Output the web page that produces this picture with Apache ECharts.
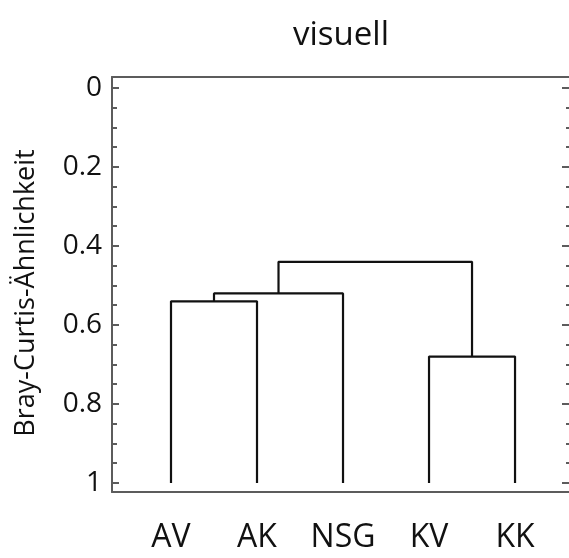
<!DOCTYPE html>
<html>
<head>
<meta charset="utf-8">
<script src="https://cdn.jsdelivr.net/npm/echarts@6/dist/echarts.min.js"></script>
<style>
  html, body { margin: 0; padding: 0; background: #fff; }
  #chart { width: 569px; height: 558px; }
</style>
</head>
<body>
<div id="chart"></div>
<script>
// Leaves of the dendrogram, left to right
const leafNames = ['AV', 'AK', 'NSG', 'KV', 'KK'];
// Height of the leaves on the similarity axis
const leafHeight = 1;
// Each merge joins two nodes: indices 0..4 are leaves, 5.. are earlier merges
const mergePairs = [[0, 1], [5, 2], [3, 4], [6, 7]];
// Bray-Curtis value at which each merge happens
const mergeHeights = [0.54, 0.52, 0.68, 0.44];
// Axis tick labels
const majorTicks = [0, 0.2, 0.4, 0.6, 0.8, 1];
const minorTicks = [0.05, 0.1, 0.15, 0.25, 0.3, 0.35, 0.45, 0.5, 0.55, 0.65, 0.7, 0.75, 0.85, 0.9, 0.95];

const FONT = 'Open Sans';
const axisColor = '#5c5c5c';
const inkColor = '#111';

// node positions: leaves sit at 1..n, merges at the mean of their children
const nodes = leafNames.map((name, i) => ({ x: i + 1, y: leafHeight }));
const series = [];
mergePairs.forEach((pair, k) => {
  const a = nodes[pair[0]], b = nodes[pair[1]], h = mergeHeights[k];
  nodes.push({ x: (a.x + b.x) / 2, y: h });
  series.push({
    type: 'line',
    xAxisIndex: 0,
    yAxisIndex: 0,
    symbol: 'none',
    silent: true,
    animation: false,
    lineStyle: { color: inkColor, width: 2.2 },
    data: [[a.x, a.y], [a.x, h], [b.x, h], [b.x, b.y]]
  });
});

const xMin = 0.314, xMax = 5.674;
const yMin = -0.0278, yMax = 1.0228;
const tickFmt = v => (Math.abs(v) < 1e-9 ? '0' : Math.abs(v - 1) < 1e-9 ? '1' : v.toFixed(1));

const chart = echarts.init(document.getElementById('chart'), null, { renderer: 'canvas' });
chart.setOption({
  backgroundColor: '#fff',
  animation: false,
  title: {
    text: 'visuell',
    left: 288,
    top: 14,
    textStyle: { fontFamily: FONT, fontSize: 33, fontWeight: 'normal', color: inkColor }
  },
  grid: { left: 112, right: -4, top: 77, bottom: 66, containLabel: false, outerBoundsMode: 'none' },
  xAxis: [
    {
      type: 'value', min: xMin, max: xMax, position: 'bottom',
      axisLine: { show: true, onZero: false, lineStyle: { color: axisColor, width: 2 } },
      axisTick: { show: false },
      splitLine: { show: false },
      axisLabel: {
        customValues: leafNames.map((n, i) => i + 1),
        formatter: v => leafNames[Math.round(v) - 1],
        margin: 30,
        fontFamily: FONT, fontSize: 32, color: inkColor
      }
    },
    {
      type: 'value', min: xMin, max: xMax, position: 'top',
      axisLine: { show: true, onZero: false, lineStyle: { color: axisColor, width: 2 } },
      axisTick: { show: false }, axisLabel: { show: false }, splitLine: { show: false }
    }
  ],
  yAxis: [
    {
      type: 'value', inverse: true, min: yMin, max: yMax, position: 'left',
      name: 'Bray-Curtis-Ähnlichkeit',
      nameLocation: 'middle',
      nameGap: 72,
      nameTextStyle: { fontFamily: FONT, fontSize: 27, color: inkColor, padding: [0, 17, 0, 0] },
      axisLine: { show: true, onZero: false, lineStyle: { color: axisColor, width: 2 } },
      axisTick: { show: true, inside: true, length: 7, customValues: majorTicks, lineStyle: { color: axisColor, width: 2 } },
      axisLabel: { customValues: majorTicks, formatter: tickFmt, margin: 10, fontFamily: FONT, fontSize: 28, color: inkColor },
      splitLine: { show: false }
    },
    {
      type: 'value', inverse: true, min: yMin, max: yMax, position: 'left',
      axisLine: { show: false, onZero: false },
      axisTick: { show: true, inside: true, length: 5, customValues: minorTicks, lineStyle: { color: axisColor, width: 2 } },
      axisLabel: { show: false }, splitLine: { show: false }
    },
    {
      type: 'value', inverse: true, min: yMin, max: yMax, position: 'right',
      axisLine: { show: true, onZero: false, lineStyle: { color: axisColor, width: 2 } },
      axisTick: { show: true, inside: true, length: 11, customValues: majorTicks, lineStyle: { color: axisColor, width: 2 } },
      axisLabel: { show: false }, splitLine: { show: false }
    },
    {
      type: 'value', inverse: true, min: yMin, max: yMax, position: 'right',
      axisLine: { show: false, onZero: false },
      axisTick: { show: true, inside: true, length: 7, customValues: minorTicks, lineStyle: { color: axisColor, width: 2 } },
      axisLabel: { show: false }, splitLine: { show: false }
    }
  ],
  series: series
});
</script>
</body>
</html>
